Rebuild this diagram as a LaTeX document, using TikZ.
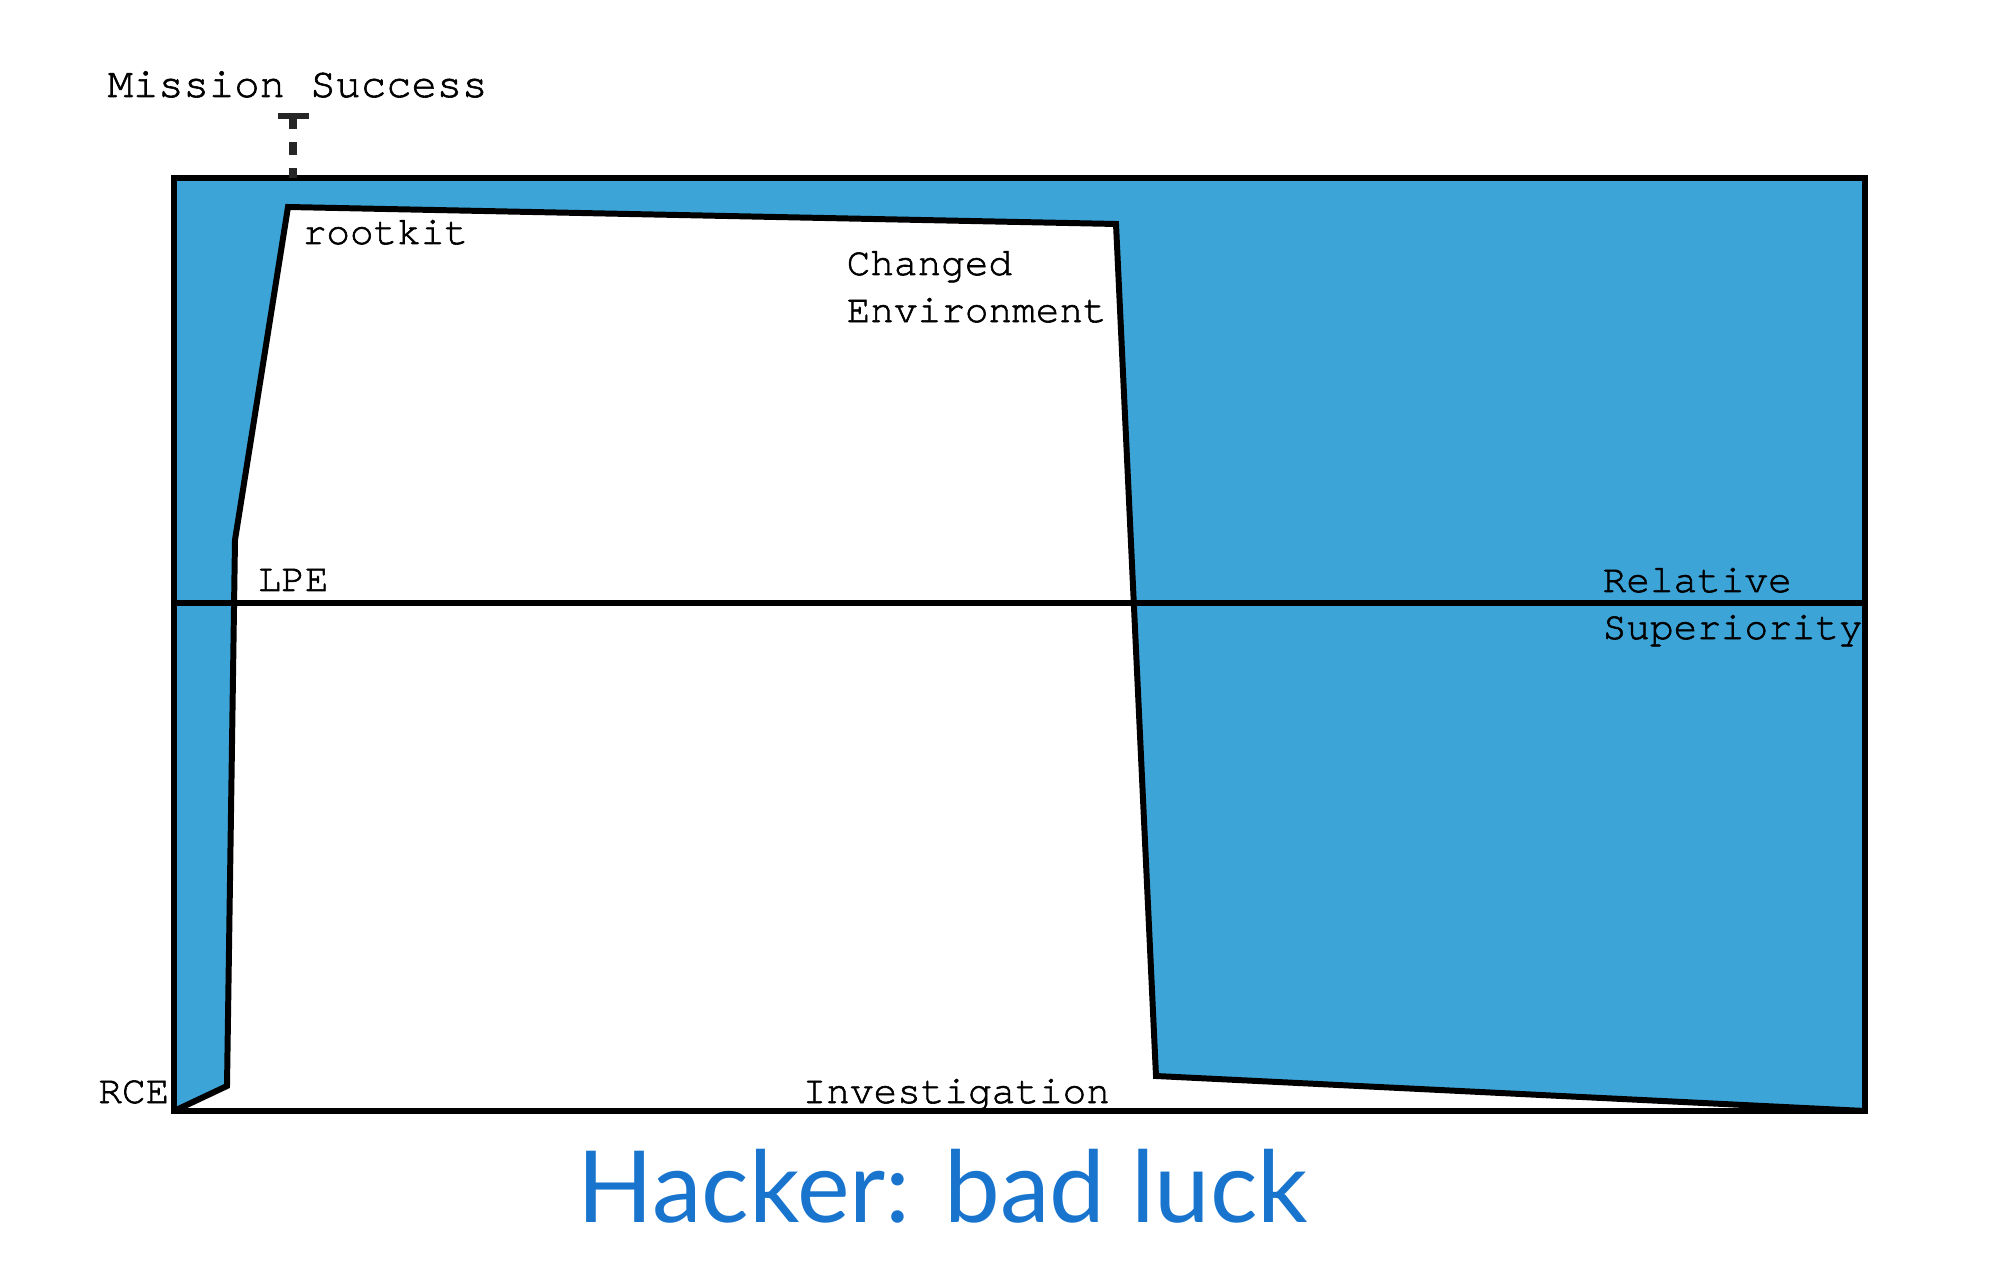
\documentclass[tikz,border=0pt]{standalone}
\usepackage{fontspec}
\setmainfont{Liberation Serif}
\setmonofont[FakeBold=1.5]{texgyrecursor-regular.otf}
\newfontfamily\titlefont{Lato}
\usetikzlibrary{positioning}
\definecolor{seablue}{RGB}{60,164,215}
\definecolor{titleblue}{RGB}{24,116,205}

\begin{document}
\begin{tikzpicture}[
  x=0.01cm,y=-0.01cm,
  every node/.style={font=\ttfamily\fontsize{11.2}{13}\selectfont, inner sep=0pt},
  lbl/.style={anchor=base west},
  edge/.style={line width=1.7pt, line join=miter, draw=black},
  marker/.style={line width=2pt, draw=black!85, dash pattern=on 0.13cm off 0.13cm}
]
\useasboundingbox (0,0) rectangle (2000,1286);

\fill[seablue] (174,178) rectangle (1865,1111);
\fill[white] (174,1111) -- (227,1086) -- (235,540) -- (288,207)
  -- (1116,224) -- (1156,1076) -- (1865,1111) -- cycle;
\draw[edge] (174,1111) -- (227,1086) -- (235,540) -- (288,207)
  -- (1116,224) -- (1156,1076) -- (1865,1111);
\draw[edge] (174,603) -- (1865,603);
\draw[edge] (174,178) rectangle (1865,1111);

% mission success marker
\coordinate (tip) at (293,116);
\coordinate (foot) at (293,178);
\draw[marker] (tip) -- (foot);
\draw[line width=1.7pt, draw=black!85] ([xshift=-0.15cm]tip) -- ([xshift=0.16cm]tip);

\node[lbl, font=\ttfamily\fontsize{12}{13}\selectfont] (mission) at (107,97) {Mission Success};
\node[lbl] (rootkit) at (302,244) {rootkit};
\node[lbl] (changed) at (846,275) {Changed};
\node[lbl] (environ) at ([yshift=-0.47cm]changed.base west) {Environment};
\node[lbl] (lpe) at (257,591) {LPE};
\node[lbl] (relative) at (1602,592) {Relative};
\node[lbl] (superiority) at ([yshift=-0.47cm]relative.base west) {Superiority};
\node[anchor=base east] (rce) at (170,1103) {RCE};
\node[lbl] (investigation) at (802,1103) {Investigation};

\node[anchor=base, font=\titlefont\fontsize{28.3}{32}\selectfont, text=titleblue] (title) at (943,1222) {Hacker: bad luck};
\end{tikzpicture}
\end{document}
